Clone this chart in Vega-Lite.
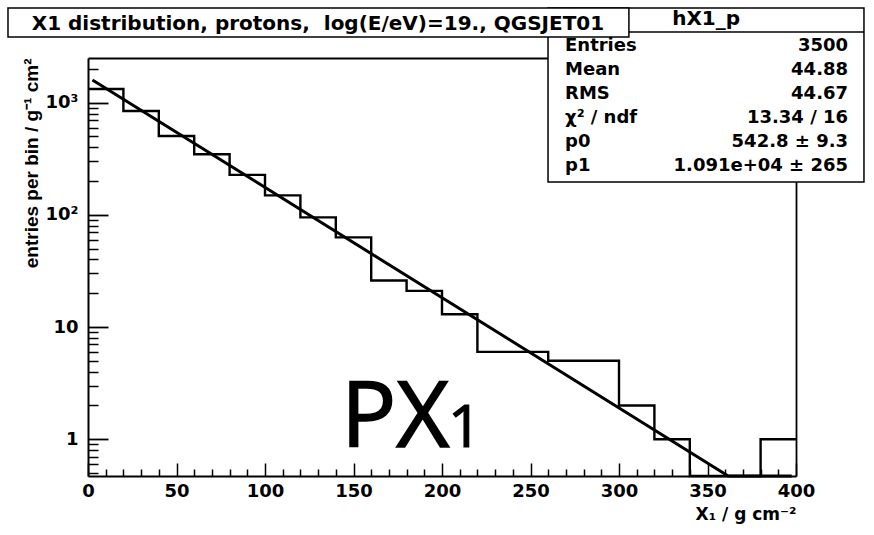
{
  "$schema": "https://vega.github.io/schema/vega-lite/v6.json",
  "width": 708,
  "height": 418,
  "autosize": {"type": "none"},
  "padding": {"left": 88, "top": 58, "right": 78, "bottom": 59},
  "background": "white",
  "config": {"view": {"stroke": null}, "axis": {"grid": false}},
  "datasets": {
    "hist": [
      {"edge": 0, "count": 1324}, {"edge": 20, "count": 843}, {"edge": 40, "count": 505},
      {"edge": 60, "count": 347}, {"edge": 80, "count": 227}, {"edge": 100, "count": 149},
      {"edge": 120, "count": 95}, {"edge": 140, "count": 63}, {"edge": 160, "count": 26},
      {"edge": 180, "count": 21}, {"edge": 200, "count": 13}, {"edge": 220, "count": 6},
      {"edge": 240, "count": 6}, {"edge": 260, "count": 5}, {"edge": 280, "count": 5},
      {"edge": 300, "count": 2}, {"edge": 320, "count": 1}, {"edge": 340, "count": 0},
      {"edge": 360, "count": 0}, {"edge": 380, "count": 1}, {"edge": 400, "count": 1}
    ],
    "fit": [
      {"x": 2.5, "fit": 1593}, {"x": 361.7, "fit": 0.47}, {"x": 397.6, "fit": 0.47}
    ]
  },
  "resolve": {"scale": {"y": "independent"}, "axis": {"x": "independent", "y": "independent"}},
  "layer": [
    {
      "data": {"name": "hist"},
      "mark": {"type": "line", "interpolate": "step-after", "color": "black", "strokeWidth": 2.4},
      "encoding": {
        "x": {"field": "edge", "type": "quantitative",
          "scale": {"domain": [0, 400], "nice": false, "zero": false},
          "axis": {"orient": "bottom", "zindex": 0, "values": [0, 50, 100, 150, 200, 250, 300, 350, 400],
            "tickSize": -13, "tickColor": "black", "tickWidth": 1.5,
            "domainColor": "black", "domainWidth": 2,
            "labelFont": "DejaVu Sans", "labelFontWeight": "bold", "labelFontSize": 18, "labelColor": "black",
            "labelPadding": 19, "labelFlush": false, "labelOverlap": false,
            "title": "X₁ / g cm⁻²", "titleAnchor": "end", "titleFont": "DejaVu Sans", "titleFontWeight": "bold",
            "titleFontSize": 17, "titleColor": "black", "titlePadding": 6}},
        "y": {"field": "count", "type": "quantitative",
          "scale": {"type": "log", "domain": [0.47, 2500], "nice": false, "clamp": true},
          "axis": {"orient": "left", "zindex": 0, "values": [1, 10, 100, 1000],
            "tickSize": -20, "tickColor": "black", "tickWidth": 1.8,
            "domainColor": "black", "domainWidth": 2,
            "labelExpr": "datum.value == 1000 ? '10³' : datum.value == 100 ? '10²' : datum.label",
            "labelFont": "DejaVu Sans", "labelFontWeight": "bold", "labelFontSize": 18, "labelColor": "black",
            "labelPadding": 30, "labelFlush": false, "labelOverlap": false,
            "title": "entries per bin / g⁻¹ cm²", "titleAnchor": "end", "titleFont": "Liberation Sans",
            "titleFontWeight": "bold", "titleFontSize": 19, "titleColor": "black", "titlePadding": 4}}
      }
    },
    {
      "data": {"name": "fit"},
      "mark": {"type": "line", "color": "black", "strokeWidth": 3},
      "encoding": {
        "x": {"field": "x", "type": "quantitative",
          "scale": {"domain": [0, 400], "nice": false, "zero": false},
          "axis": {"orient": "bottom", "zindex": 0, "values": [10, 20, 30, 40, 60, 70, 80, 90, 110, 120, 130, 140, 160, 170, 180, 190, 210, 220, 230, 240, 260, 270, 280, 290, 310, 320, 330, 340, 360, 370, 380, 390],
            "tickSize": -7, "tickColor": "black", "tickWidth": 1.5, "domain": false, "labels": false, "title": null}},
        "y": {"field": "fit", "type": "quantitative",
          "scale": {"type": "log", "domain": [0.47, 2500], "nice": false, "clamp": true},
          "axis": {"orient": "left", "zindex": 0, "values": [0.5, 0.6, 0.7, 0.8, 0.9, 2, 3, 4, 5, 6, 7, 8, 9, 20, 30, 40, 50, 60, 70, 80, 90, 200, 300, 400, 500, 600, 700, 800, 900, 2000],
            "tickSize": -10, "tickColor": "black", "tickWidth": 1.5, "domain": false, "labels": false, "title": null}}
      }
    },
    {
      "data": {"values": [{}]},
      "mark": {"type": "rect", "fill": "white", "stroke": "black", "strokeWidth": 1.5},
      "encoding": {
        "x": {"datum": 259.9, "type": "quantitative",
          "scale": {"domain": [0, 400], "nice": false, "zero": false},
          "axis": {"orient": "top", "zindex": 0, "domainColor": "black", "domainWidth": 1.8, "ticks": false, "labels": false, "title": null}},
        "x2": {"datum": 438.4},
        "y": {"datum": 6976, "type": "quantitative",
          "scale": {"type": "log", "domain": [0.47, 2500], "nice": false},
          "axis": {"orient": "right", "zindex": 0, "domainColor": "black", "domainWidth": 1.8, "ticks": false, "labels": false, "title": null}},
        "y2": {"datum": 196.3}
      }
    },
    {
      "data": {"values": [{}]},
      "mark": {"type": "rule", "color": "black", "strokeWidth": 1.5},
      "encoding": {
        "x": {"datum": 259.9, "type": "quantitative", "scale": {"domain": [0, 400], "nice": false, "zero": false}, "axis": null},
        "x2": {"datum": 438.4},
        "y": {"datum": 4263, "type": "quantitative", "scale": {"type": "log", "domain": [0.47, 2500], "nice": false}, "axis": null}
      }
    },
    {
      "data": {"values": [{}]},
      "mark": {"type": "rect", "fill": "white", "stroke": "black", "strokeWidth": 1.5},
      "encoding": {
        "x": {"datum": -45.2, "type": "quantitative", "scale": {"domain": [0, 400], "nice": false, "zero": false}, "axis": null},
        "x2": {"datum": 305.6},
        "y": {"datum": 6976, "type": "quantitative", "scale": {"type": "log", "domain": [0.47, 2500], "nice": false}, "axis": null},
        "y2": {"datum": 3847}
      }
    },
    {
      "data": {"values": [{}]},
      "mark": {"type": "text", "text": "X1 distribution, protons,\u00a0 log(E/eV)=19., QGSJET01", "align": "center", "baseline": "alphabetic",
        "font": "DejaVu Sans", "fontWeight": "bold", "fontSize": 20, "color": "black"},
      "encoding": {
        "x": {"datum": 129.9, "type": "quantitative", "scale": {"domain": [0, 400], "nice": false, "zero": false}, "axis": null},
        "y": {"datum": 4442, "type": "quantitative", "scale": {"type": "log", "domain": [0.47, 2500], "nice": false}, "axis": null}
      }
    },
    {
      "data": {"values": [{}]},
      "mark": {"type": "text", "text": "hX1_p", "align": "center", "baseline": "alphabetic",
        "font": "DejaVu Sans", "fontWeight": "bold", "fontSize": 20, "color": "black"},
      "encoding": {
        "x": {"datum": 349.2, "type": "quantitative", "scale": {"domain": [0, 400], "nice": false, "zero": false}, "axis": null},
        "y": {"datum": 4872, "type": "quantitative", "scale": {"type": "log", "domain": [0.47, 2500], "nice": false}, "axis": null}
      }
    },
    {
      "data": {"values": [{}]},
      "mark": {"type": "text", "text": ["Entries", "Mean", "RMS", "χ² / ndf", "p0", "p1"], "align": "left", "baseline": "alphabetic",
        "lineHeight": 24, "font": "DejaVu Sans", "fontWeight": "bold", "fontSize": 18, "color": "black"},
      "encoding": {
        "x": {"datum": 269.5, "type": "quantitative", "scale": {"domain": [0, 400], "nice": false, "zero": false}, "axis": null},
        "y": {"datum": 2858, "type": "quantitative", "scale": {"type": "log", "domain": [0.47, 2500], "nice": false}, "axis": null}
      }
    },
    {
      "data": {"values": [{}]},
      "mark": {"type": "text", "text": ["3500", "44.88", "44.67", "13.34 / 16", "542.8 ± 9.3", "1.091e+04 ± 265"], "align": "right", "baseline": "alphabetic",
        "lineHeight": 24, "font": "DejaVu Sans", "fontWeight": "bold", "fontSize": 18, "color": "black"},
      "encoding": {
        "x": {"datum": 429.4, "type": "quantitative", "scale": {"domain": [0, 400], "nice": false, "zero": false}, "axis": null},
        "y": {"datum": 2858, "type": "quantitative", "scale": {"type": "log", "domain": [0.47, 2500], "nice": false}, "axis": null}
      }
    },
    {
      "data": {"values": [{}]},
      "mark": {"type": "text", "text": "PX", "align": "left", "baseline": "alphabetic",
        "font": "Liberation Sans Narrow, Open Sans", "fontSize": 92, "color": "black", "stroke": "black", "strokeWidth": 1.5},
      "encoding": {
        "x": {"datum": 142.9, "type": "quantitative", "scale": {"domain": [0, 400], "nice": false, "zero": false}, "axis": null},
        "y": {"datum": 0.858, "type": "quantitative", "scale": {"type": "log", "domain": [0.47, 2500], "nice": false}, "axis": null}
      }
    },
    {
      "data": {"values": [{}]},
      "mark": {"type": "text", "text": "1", "align": "left", "baseline": "alphabetic",
        "font": "Liberation Sans Narrow, Open Sans", "fontSize": 59, "color": "black", "stroke": "black", "strokeWidth": 1.2},
      "encoding": {
        "x": {"datum": 203.4, "type": "quantitative", "scale": {"domain": [0, 400], "nice": false, "zero": false}, "axis": null},
        "y": {"datum": 0.858, "type": "quantitative", "scale": {"type": "log", "domain": [0.47, 2500], "nice": false}, "axis": null}
      }
    }
  ]
}
